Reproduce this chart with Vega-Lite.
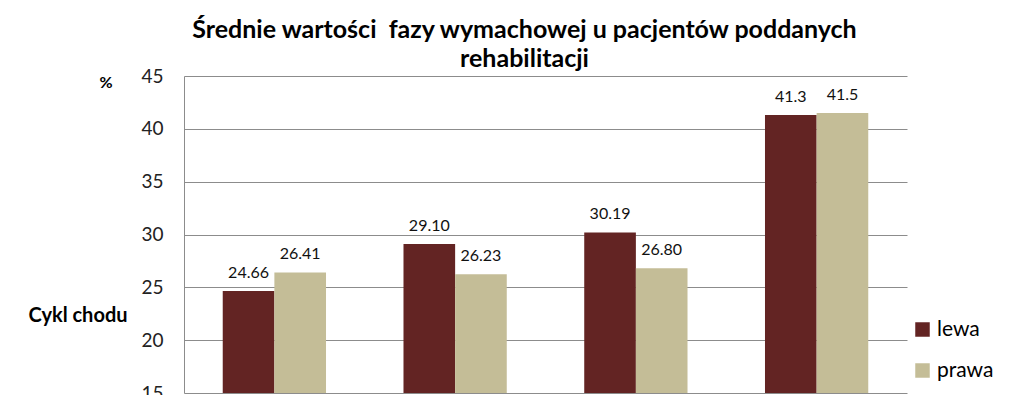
{
  "$schema": "https://vega.github.io/schema/vega-lite/v6.json",
  "autosize": {"type": "none"},
  "padding": {"left": 184, "top": 76, "right": 116, "bottom": 2},
  "width": 723,
  "height": 317,
  "background": "white",
  "title": {
    "text": ["Średnie wartości\u00a0 fazy wymachowej u pacjentów poddanych", "rehabilitacji"],
    "font": "Lato",
    "fontSize": 25,
    "fontWeight": "bold",
    "color": "#000000",
    "anchor": "middle",
    "dx": -21,
    "offset": -5,
    "lineHeight": 29
  },
  "data": {
    "values": [
      {"grupa": "1", "strona": "lewa", "wartosc": 24.66, "etykieta": "24.66"},
      {"grupa": "1", "strona": "prawa", "wartosc": 26.41, "etykieta": "26.41"},
      {"grupa": "2", "strona": "lewa", "wartosc": 29.10, "etykieta": "29.10"},
      {"grupa": "2", "strona": "prawa", "wartosc": 26.23, "etykieta": "26.23"},
      {"grupa": "3", "strona": "lewa", "wartosc": 30.19, "etykieta": "30.19"},
      {"grupa": "3", "strona": "prawa", "wartosc": 26.80, "etykieta": "26.80"},
      {"grupa": "4", "strona": "lewa", "wartosc": 41.3, "etykieta": "41.3"},
      {"grupa": "4", "strona": "prawa", "wartosc": 41.5, "etykieta": "41.5"}
    ]
  },
  "encoding": {
    "x": {
      "field": "grupa",
      "type": "nominal",
      "scale": {"paddingInner": 0.4286, "paddingOuter": 0.2143},
      "axis": {"labels": false, "ticks": false, "title": null, "domain": false}
    },
    "xOffset": {"field": "strona", "type": "nominal", "scale": {"paddingInner": 0, "paddingOuter": 0}},
    "y": {
      "field": "wartosc",
      "type": "quantitative",
      "scale": {"domain": [15, 45], "nice": false, "zero": false, "clamp": true}
    }
  },
  "layer": [
    {
      "mark": {"type": "bar", "clip": true},
      "encoding": {
        "y": {
          "field": "wartosc",
          "type": "quantitative",
          "scale": {"domain": [15, 45], "nice": false, "zero": false},
          "axis": {
            "orient": "left",
            "values": [15, 20, 25, 30, 35, 40, 45],
            "grid": true,
            "gridColor": "#8c8c8c",
            "gridWidth": 1,
            "domain": true,
            "domainColor": "#8c8c8c",
            "ticks": false,
            "labelFont": "Lato",
            "labelFontSize": 19,
            "labelColor": "#222222",
            "labelPadding": 21,
            "title": "Cykl chodu",
            "titleFont": "Lato",
            "titleFontSize": 20,
            "titleFontWeight": "bold",
            "titleColor": "#000000",
            "titleAngle": 0,
            "titleAlign": "left",
            "titleBaseline": "middle",
            "titleX": -156,
            "titleY": 239
          }
        },
        "color": {
          "field": "strona",
          "type": "nominal",
          "scale": {"domain": ["lewa", "prawa"], "range": ["#632423", "#c4bd97"]},
          "legend": {
            "title": null,
            "orient": "none",
            "legendX": 728,
            "legendY": 243,
            "symbolType": "square",
            "symbolSize": 210,
            "symbolStrokeWidth": 0,
            "labelFont": "Lato",
            "labelFontSize": 21,
            "labelColor": "#000000",
            "labelOffset": 4,
            "rowPadding": 19
          }
        }
      }
    },
    {
      "mark": {"type": "text", "baseline": "bottom", "dy": -10, "font": "Lato", "fontSize": 16, "color": "#111111"},
      "encoding": {
        "text": {"field": "etykieta", "type": "nominal"},
        "y": {
          "field": "wartosc",
          "type": "quantitative",
          "scale": {"domain": [15, 45], "nice": false, "zero": false},
          "axis": {
            "orient": "left",
            "labels": false,
            "ticks": false,
            "domain": false,
            "grid": false,
            "title": "%",
            "titleFont": "Lato",
            "titleFontSize": 16,
            "titleFontWeight": "bold",
            "titleColor": "#000000",
            "titleAngle": 0,
            "titleAlign": "left",
            "titleBaseline": "middle",
            "titleX": -85,
            "titleY": 6
          }
        }
      }
    }
  ],
  "resolve": {"axis": {"y": "independent"}},
  "config": {"view": {"stroke": null}}
}
